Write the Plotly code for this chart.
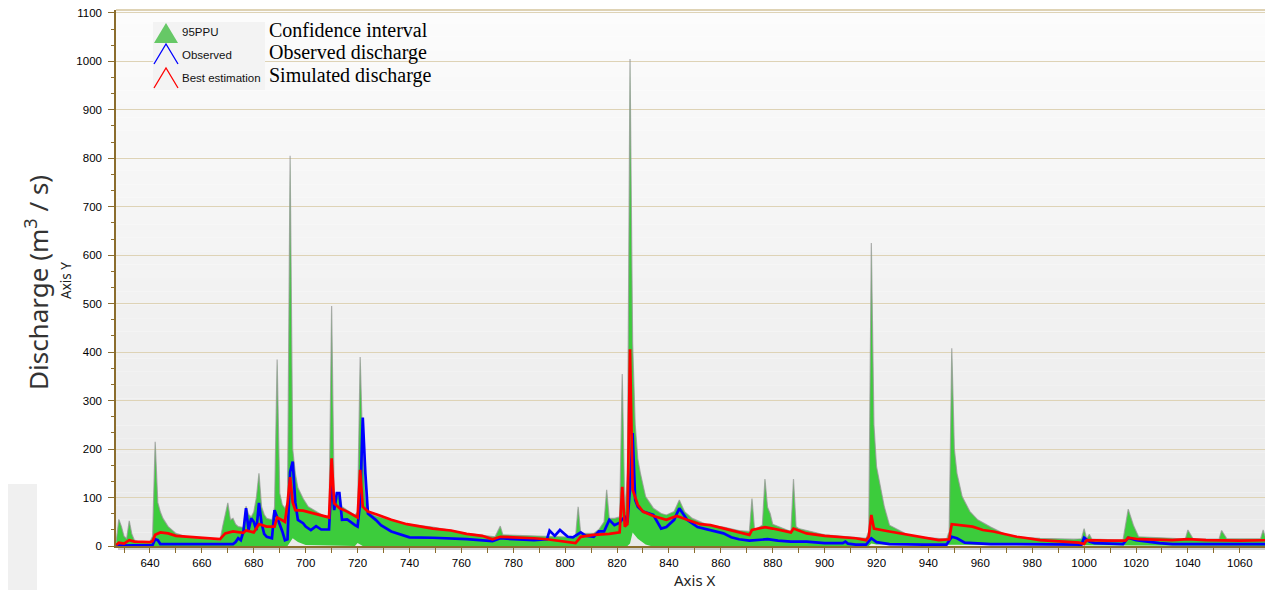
import plotly.graph_objects as go

# 95PPU band (upper / lower bound)
ppu_up_x = [627, 628, 629, 630, 631, 632, 633, 634, 636, 640, 641, 642, 643, 644, 645, 647, 650, 654, 659, 667,
            668, 669, 670, 671, 672, 673, 674, 676, 677, 678, 679, 680, 681, 682, 683, 684, 685, 687, 688, 689,
            690, 691, 692, 693, 694, 695, 696, 697, 699, 701, 704, 707, 709, 710, 711, 712, 713, 714, 716, 719,
            720, 721, 722, 723, 724, 727, 733, 739, 749, 762, 773, 775, 776, 788, 800, 804, 805, 806, 811, 813,
            815, 816, 817, 819, 821, 822, 823, 824, 825, 826, 827, 828, 829, 831, 834, 837, 839, 842, 844, 846,
            849, 852, 855, 861, 867, 871, 872, 873, 876, 877, 878, 879, 880, 887, 888, 889, 890, 900, 912, 916,
            917, 918, 919, 920, 923, 925, 932, 938, 947, 948, 949, 950, 951, 953, 956, 959, 964, 970, 976, 983,
            996, 999, 1000, 1001, 1002, 1003, 1015, 1016, 1017, 1019, 1021, 1034, 1039, 1040, 1042, 1052, 1053, 1055, 1068, 1069,
            1070, 1071, 1072, 1073]
ppu_up = [10, 55, 40, 20, 15, 52, 25, 12, 8, 9, 20, 215, 90, 70, 57, 40, 26, 19, 16, 12,
          40, 65, 89, 54, 57, 45, 40, 38, 82, 65, 60, 70, 100, 150, 81, 65, 57, 54, 80, 385,
          109, 85, 78, 90, 805, 200, 150, 120, 98, 81, 71, 62, 60, 495, 95, 100, 110, 81, 74, 64,
          70, 390, 200, 100, 71, 62, 54, 45, 39, 26, 19, 41, 23, 21, 18, 18, 81, 26, 26, 34,
          50, 116, 57, 57, 60, 355, 70, 150, 1005, 420, 250, 180, 150, 102, 78, 67, 64, 71, 95, 71,
          57, 50, 43, 39, 32, 30, 98, 33, 43, 138, 80, 67, 45, 30, 138, 40, 36, 23, 18, 16,
          30, 625, 250, 164, 81, 43, 23, 18, 14, 30, 408, 200, 150, 102, 71, 54, 39, 23, 18, 16,
          14, 15, 36, 15, 24, 14, 12, 40, 76, 43, 19, 16, 14, 33, 15, 14, 32, 15, 15, 33,
          15, 16, 124, 40]

ppu_lo_x = [627, 693, 695, 697, 700, 719, 720, 722, 824, 825, 826, 828, 831, 833, 917, 918, 920, 1073]
ppu_lo = [0, 0, 16, 8, 2, 0, 6, 0, 0, 5, 28, 15, 3, 0, 0, 5, 3, 0]

# Observed discharge
obs_x = [627, 640, 641, 642, 643, 644, 672, 673, 674, 675, 676, 677, 678, 679, 680, 681, 682, 683, 684, 685,
         687, 688, 689, 690, 691, 692, 693, 694, 695, 696, 697, 699, 700, 702, 704, 706, 709, 710, 711, 712,
         713, 714, 716, 719, 720, 721, 722, 723, 724, 727, 729, 733, 737, 740, 749, 762, 772, 775, 780, 788,
         793, 794, 796, 798, 801, 803, 806, 808, 811, 813, 815, 817, 819, 821, 822, 823, 824, 825, 826, 827,
         828, 830, 834, 837, 839, 842, 844, 847, 851, 855, 861, 864, 867, 871, 874, 878, 882, 887, 893, 900,
         907, 908, 909, 912, 916, 918, 920, 925, 938, 947, 949, 951, 954, 964, 999, 1000, 1002, 1004, 1015, 1017,
         1020, 1024, 1029, 1034, 1070, 1072, 1073]
obs_q = [1, 1, 2, 14, 12, 4, 4, 8, 16, 12, 30, 78, 33, 57, 50, 33, 89, 47, 25, 19,
         16, 74, 60, 47, 30, 12, 14, 153, 174, 90, 54, 47, 40, 33, 41, 34, 34, 140, 74, 109,
         109, 54, 55, 43, 40, 90, 265, 150, 67, 54, 43, 30, 23, 18, 17, 14, 10, 16, 14, 12,
         14, 32, 21, 33, 19, 18, 28, 21, 19, 30, 30, 54, 43, 48, 55, 60, 48, 120, 233, 95,
         81, 71, 64, 36, 39, 54, 78, 54, 39, 34, 26, 18, 14, 11, 12, 14, 11, 9, 9, 6,
         6, 9, 5, 3, 3, 16, 8, 4, 3, 3, 19, 16, 7, 4, 3, 17, 9, 6, 4, 17,
         12, 9, 6, 4, 4, 14, 14]

# Simulated discharge (best estimation)
sim_x = [627, 628, 630, 632, 634, 640, 641, 642, 644, 647, 650, 657, 660, 667, 669, 671, 672, 676, 677, 680,
         682, 685, 688, 689, 692, 693, 694, 695, 696, 699, 702, 706, 709, 710, 711, 713, 716, 720, 721, 722,
         724, 728, 733, 739, 743, 749, 756, 762, 768, 772, 775, 781, 788, 793, 801, 804, 806, 811, 817, 821,
         822, 823, 824, 825, 826, 828, 830, 834, 839, 843, 847, 852, 856, 861, 867, 871, 872, 877, 880, 887,
         888, 893, 900, 906, 912, 916, 917, 918, 919, 925, 932, 938, 944, 948, 949, 957, 961, 965, 970, 974,
         977, 983, 989, 998, 1000, 1001, 1009, 1016, 1017, 1021, 1034, 1040, 1047, 1060, 1071, 1072, 1073]
sim_q = [2, 7, 5, 12, 9, 8, 10, 23, 28, 26, 21, 18, 16, 14, 26, 28, 30, 27, 32, 28,
         45, 40, 40, 59, 50, 88, 142, 90, 74, 73, 69, 64, 59, 181, 88, 78, 71, 59, 157, 81,
         71, 64, 54, 45, 41, 36, 32, 25, 21, 14, 19, 18, 16, 14, 9, 6, 19, 23, 25, 28,
         122, 40, 45, 406, 116, 85, 71, 62, 54, 62, 54, 45, 43, 36, 28, 23, 33, 39, 36, 28,
         36, 26, 21, 19, 16, 12, 19, 64, 36, 30, 23, 18, 12, 14, 45, 40, 33, 30, 23, 19,
         17, 12, 10, 7, 4, 12, 11, 11, 17, 14, 12, 14, 12, 11, 12, 23, 23]

# page body has an 8px margin, so the figure starts at (8, 8) of the window
OFF = 8
W, H = 1273 - OFF, 590 - OFF
PL, PR, PT, PB = 116, 1273, 10, 546   # plot area in window pixels


def px(x):
    return (x - PL) / (PR - PL)


def py(y):
    return (PB - y) / (PB - PT)


fig = go.Figure()
fig.add_trace(go.Scatter(x=ppu_lo_x, y=ppu_lo, mode='lines', line=dict(width=0, color='#3ccc3c'),
                         showlegend=False, hoverinfo='skip'))
fig.add_trace(go.Scatter(x=ppu_up_x, y=ppu_up, mode='lines', fill='tonexty', fillcolor='#3ccc3c',
                         line=dict(width=1.2, color='rgba(150,150,150,0.75)'), name='95PPU', showlegend=False))
fig.add_trace(go.Scatter(x=obs_x, y=obs_q, mode='lines', line=dict(width=2.7, color='#0000ff'),
                         name='Observed', showlegend=False))
fig.add_trace(go.Scatter(x=sim_x, y=sim_q, mode='lines', line=dict(width=2.7, color='#ff0000'),
                         name='Best estimation', showlegend=False))

shapes = []
# vertical gradient of the plot background
n = 40
for i in range(n):
    c = round(252 - (252 - 233) * (i + 0.5) / n)
    shapes.append(dict(type='rect', xref='x domain', yref='y domain', x0=0, x1=1,
                       y0=1 - (i + 1) / n, y1=1 - i / n, layer='below', line=dict(width=0),
                       fillcolor=f'rgb({c},{c},{c})'))
# top border
shapes.append(dict(type='line', xref='x domain', yref='y domain', x0=0, x1=1, y0=1, y1=1,
                   line=dict(color='#d4c59c', width=1.5)))
# shadow strip under the x axis
shapes.append(dict(type='rect', xref='paper', yref='paper', x0=px(118), x1=1, y0=py(550), y1=py(546.5),
                   layer='below', line=dict(width=0), fillcolor='#cfcfcf'))
# grey box bottom left
shapes.append(dict(type='rect', xref='paper', yref='paper', x0=px(0), x1=px(37), y0=py(590), y1=py(484),
                   layer='below', line=dict(width=0), fillcolor='#f0f0f0'))
# legend box
shapes.append(dict(type='rect', xref='paper', yref='paper', x0=px(153), x1=px(265), y0=py(90), y1=py(22),
                   line=dict(width=0), fillcolor='#f3f3f3'))
shapes.append(dict(type='path', xref='paper', yref='paper',
                   path=f'M {px(154)},{py(43)} L {px(166)},{py(23)} L {px(178)},{py(43)} Z',
                   line=dict(width=0), fillcolor='#66c866'))
shapes.append(dict(type='path', xref='paper', yref='paper',
                   path=f'M {px(154)},{py(64)} L {px(166)},{py(44)} L {px(178)},{py(64)}',
                   line=dict(width=1.3, color='#0000ff')))
shapes.append(dict(type='path', xref='paper', yref='paper',
                   path=f'M {px(154)},{py(88)} L {px(166)},{py(68)} L {px(178)},{py(88)}',
                   line=dict(width=1.3, color='#ff0000')))

annotations = []
for label, yy in [('95PPU', 32), ('Observed', 55), ('Best estimation', 78)]:
    annotations.append(dict(text=label, xref='paper', yref='paper', x=px(180), y=py(yy),
                            xanchor='left', yanchor='middle', showarrow=False,
                            font=dict(family='Liberation Sans', size=11.5, color='#111111')))
for label, yy in [('Confidence interval', 30), ('Observed discharge', 53), ('Simulated discharge', 76)]:
    annotations.append(dict(text=label, xref='paper', yref='paper', x=px(267), y=py(yy),
                            xanchor='left', yanchor='middle', showarrow=False,
                            font=dict(family='Liberation Serif', size=20, color='#000000')))
annotations.append(dict(text='Axis Y', xref='paper', yref='paper', x=px(66), y=py(281),
                        xanchor='center', yanchor='middle', textangle=-90, showarrow=False,
                        font=dict(family='Noto Sans', size=13.5, color='#222222')))
annotations.append(dict(text='Discharge (m<sup>3</sup> / s)', xref='paper', yref='paper', x=px(37), y=py(283),
                        xanchor='center', yanchor='middle', textangle=-90, showarrow=False,
                        font=dict(family='Noto Sans', size=26, color='#333333')))
annotations.append(dict(text='Axis X', xref='paper', yref='paper', x=px(694), y=py(580),
                        xanchor='center', yanchor='middle', showarrow=False,
                        font=dict(family='Noto Sans', size=15, color='#222222')))

axis_col = '#8b6d2e'
grid_col = '#ded3b6'
fig.update_layout(
    width=W, height=H,
    margin=dict(l=PL - OFF, r=0, t=PT - OFF, b=H - (PB - OFF)),
    paper_bgcolor='white', plot_bgcolor='rgba(0,0,0,0)',
    shapes=shapes, annotations=annotations,
    showlegend=False,
    xaxis=dict(range=[626.9, 1072.8], dtick=20, tick0=0, ticks='outside', ticklen=5, tickcolor=axis_col,
               showline=True, linecolor=axis_col, linewidth=1.5, showgrid=False, zeroline=False,
               minor=dict(dtick=10, ticks='outside', ticklen=5, tickcolor=axis_col),
               tickfont=dict(family='Liberation Sans', size=11.5, color='#000000')),
    yaxis=dict(range=[0, 1106], dtick=100, tick0=0, ticks='outside', ticklen=6, tickcolor=axis_col,
               showline=True, linecolor=axis_col, linewidth=1.5, showgrid=True, gridcolor=grid_col,
               gridwidth=1, zeroline=False, ticklabelstandoff=4, ticklabeloverflow='allow',
               minor=dict(dtick=100 / 3, ticks='outside', ticklen=3, tickcolor=axis_col, showgrid=False),
               tickfont=dict(family='Liberation Sans', size=11.5, color='#000000')),
)

fig.write_html("out.html")
